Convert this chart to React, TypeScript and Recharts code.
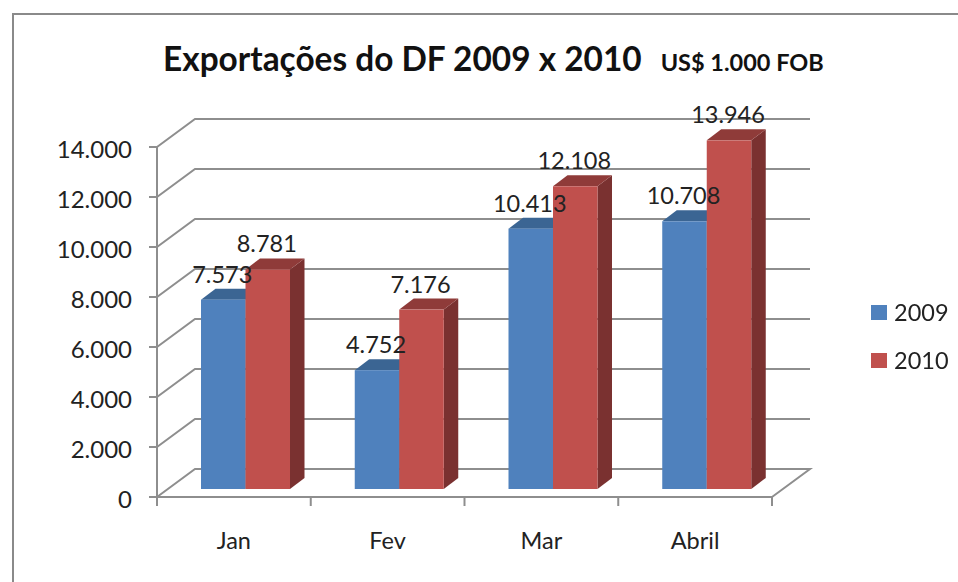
import React from 'react';
import { ComposedChart, Bar, XAxis, YAxis, CartesianGrid, Legend, LabelList } from 'recharts';

const categories = ['Jan', 'Fev', 'Mar', 'Abril'];
const values2009 = [7573, 4752, 10413, 10708];
const values2010 = [8781, 7176, 12108, 13946];
const yTicks = [0, 2000, 4000, 6000, 8000, 10000, 12000, 14000];
const table = categories.map((c, i) => ({ c, a: values2009[i], b: values2010[i] }));

const FONT = 'Lato, sans-serif';
const GRID = '#8e8e8e';
const TEXT = '#222222';
const fmt = (v: number) => String(v).replace(/\B(?=(\d{3})+$)/g, '.');

const SHIFT_X = 12;
const SHIFT_Y = -8;
const DEPTH_X = 14.5;
const DEPTH_Y = -11;
const WALL_X = 38;
const WALL_Y = -28;

const Box3D = (colors: { front: string; top: string; side: string }) => (p: any) => {
  const x = p.x + SHIFT_X;
  const y = p.y + SHIFT_Y;
  const w = p.width;
  const h = p.height;
  const top = `${x},${y} ${x + DEPTH_X},${y + DEPTH_Y} ${x + w + DEPTH_X},${y + DEPTH_Y} ${x + w},${y}`;
  const side = `${x + w},${y} ${x + w + DEPTH_X},${y + DEPTH_Y} ${x + w + DEPTH_X},${y + h + DEPTH_Y} ${x + w},${y + h}`;
  return (
    <g>
      <polygon points={side} fill={colors.side} />
      <polygon points={top} fill={colors.top} />
      <rect x={x} y={y} width={w} height={h} fill={colors.front} />
    </g>
  );
};

const Blue = Box3D({ front: '#4f81bd', top: '#3b6593', side: '#355a86' });
const Red = Box3D({ front: '#c0504d', top: '#8f3b39', side: '#7a3130' });

const DataLabel = (p: any) => (
  <text
    x={p.x + p.width / 2 + SHIFT_X - 1}
    y={p.y + SHIFT_Y - 26}
    textAnchor="middle"
    dominantBaseline="central"
    fontFamily={FONT}
    fontSize={23.5}
    fill={TEXT}
  >
    {fmt(p.value)}
  </text>
);

const WallLine = (p: any) => {
  const { x1, y1, x2 } = p;
  const isFloor = Math.abs(y1 - 497) < 1;
  return (
    <g key={p.key}>
      <polyline
        points={`${x1},${y1} ${x1 + WALL_X},${y1 + WALL_Y} ${x2 + WALL_X},${y1 + WALL_Y}${isFloor ? ` ${x2},${y1}` : ''}`}
        fill="none"
        stroke={GRID}
        strokeWidth={2}
      />
    </g>
  );
};

const TICK_SIZE = 9;
const TICK_MARGIN = 26;

const CategoryTick = (p: any) => {
  const band = p.width / p.visibleTicksCount;
  const axisY = p.y - TICK_SIZE - TICK_MARGIN;
  const left = p.x - band / 2;
  const right = p.x + band / 2;
  const isLast = p.index === p.visibleTicksCount - 1;
  return (
    <g>
      <line x1={left} x2={left} y1={axisY} y2={axisY + TICK_SIZE} stroke={GRID} strokeWidth={2} />
      {isLast && <line x1={right} x2={right} y1={axisY} y2={axisY + TICK_SIZE} stroke={GRID} strokeWidth={2} />}
      <text x={p.x} y={p.y} dy="0.71em" textAnchor="middle" fontFamily={FONT} fontSize={23.5} fill={TEXT}>
        {p.payload.value}
      </text>
    </g>
  );
};

const LegendBox = (p: any) => (
  <div style={{ position: 'fixed', left: 871, top: 288, fontFamily: FONT, fontSize: 23.5, color: TEXT }}>
    {(p.payload || []).map((e: any) => (
      <div key={e.value} style={{ display: 'flex', alignItems: 'center', height: 48 }}>
        <span style={{ width: 16, height: 15, background: e.color, display: 'inline-block', marginRight: 7 }} />
        <span>{e.value}</span>
      </div>
    ))}
  </div>
);

export default function App() {
  return (
    <div style={{ position: 'absolute', left: 0, top: 0, width: 958, height: 582, overflow: 'hidden', background: '#fff' }}>
      <div style={{ position: 'absolute', left: 12, top: 13, width: 960, height: 600, border: '2px solid #8a8a8a' }} />
      <div style={{ position: 'absolute', left: 163, top: 38, whiteSpace: 'nowrap', fontFamily: FONT, fontWeight: 700, color: '#111', lineHeight: '40px' }}>
        <span style={{ fontSize: 33.4 }}>Exportações do DF 2009 x 2010</span>
        <span style={{ fontSize: 23.5, marginLeft: 19 }}>US$ 1.000 FOB</span>
      </div>
      <ComposedChart
        width={958}
        height={582}
        data={table}
        margin={{ top: 147, right: 186, bottom: 0, left: 0 }}
        barGap={0}
        barSize={44.5}
        style={{ position: 'absolute', left: 0, top: 0 }}
      >
        <CartesianGrid horizontal={WallLine} vertical={false} />
        <XAxis
          dataKey="c"
          height={85}
          tickLine={false}
          axisLine={{ stroke: GRID, strokeWidth: 2 }}
          tickSize={TICK_SIZE}
          tickMargin={TICK_MARGIN}
          tick={CategoryTick}
          interval={0}
        />
        <YAxis
          width={157}
          domain={[0, 14000]}
          ticks={yTicks}
          tickFormatter={fmt}
          tickLine={{ stroke: GRID, strokeWidth: 2 }}
          axisLine={{ stroke: GRID, strokeWidth: 2 }}
          tickSize={8}
          tickMargin={17}
          tick={{ fontFamily: FONT, fontSize: 24, fill: TEXT, dy: 2 }}
        />
        <Legend content={LegendBox} />
        <Bar dataKey="a" name="2009" fill="#4f81bd" shape={Blue} isAnimationActive={false}>
          <LabelList dataKey="a" content={DataLabel} />
        </Bar>
        <Bar dataKey="b" name="2010" fill="#c0504d" shape={Red} isAnimationActive={false}>
          <LabelList dataKey="b" content={DataLabel} />
        </Bar>
      </ComposedChart>
    </div>
  );
}
